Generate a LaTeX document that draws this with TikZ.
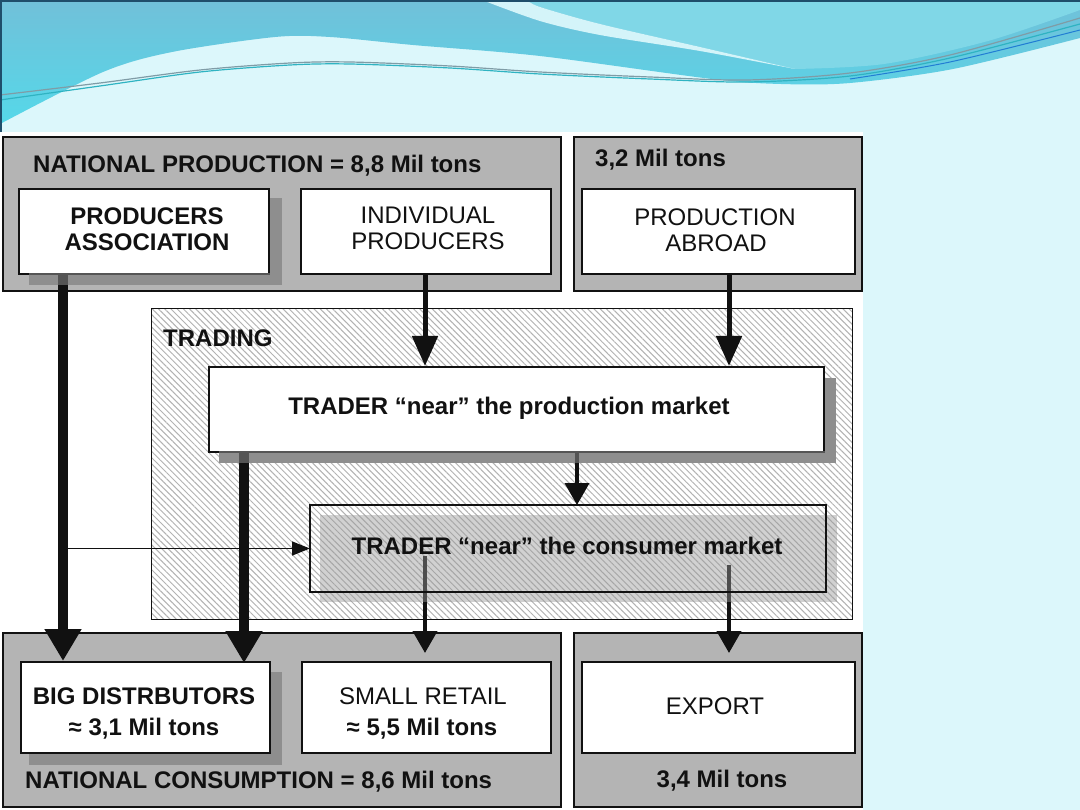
\documentclass[tikz,border=0pt]{standalone}
\usepackage{fontspec}
\setmainfont{Liberation Sans}
\usetikzlibrary{arrows.meta,patterns.meta,calc}
\definecolor{bgcyan}{HTML}{DCF7FB}
\definecolor{boxgray}{HTML}{B4B4B4}
\definecolor{shadowgray}{HTML}{8E8E8E}
\definecolor{navy}{HTML}{1F4E6B}
\definecolor{blueTop}{HTML}{71C0D9}
\definecolor{blueLow}{HTML}{55D8E9}
\definecolor{blueR}{HTML}{80D7E7}
\definecolor{wedgec}{HTML}{D4F4F9}
\definecolor{lineteal}{HTML}{2FB3C2}
\definecolor{linegray}{HTML}{7F9CA6}
\definecolor{hatchgray}{HTML}{B2B2B2}
\definecolor{ink}{HTML}{111111}
\tikzset{
  grp/.style={draw=ink, line width=2pt, fill=boxgray, inner sep=0pt, anchor=north west},
  wbox/.style={draw=ink, line width=2pt, fill=white, inner sep=0pt, anchor=north west},
  obox/.style={draw=ink, line width=2pt, inner sep=0pt, anchor=north west},
  shd/.style={fill=shadowgray},
  hatcharea/.style={draw=ink, line width=1.5pt, inner sep=0pt, anchor=north west,
     preaction={fill=white},
     pattern={Lines[angle=-45, distance=4.4pt, line width=1pt]}, pattern color=hatchgray},
  rtxt/.style={inner sep=0pt, text=ink, font=\fontsize{24}{28}\selectfont},
  btxt/.style={inner sep=0pt, text=ink, font=\fontsize{24}{28}\selectfont\bfseries},
  bigarrow/.style={draw=ink, line width=10pt, -{Triangle[width=35pt, length=32pt]}},
  midarrow/.style={draw=ink, line width=5pt, -{Triangle[width=25pt, length=30pt]}},
  smlarrow/.style={draw=ink, line width=4pt, -{Triangle[width=24pt, length=22pt]}},
  thinarrow/.style={draw=ink, line width=1.5pt, -{Triangle[width=14pt, length=18pt]}},
}
\begin{document}
\begin{tikzpicture}[x=1pt, y=-1pt]
\useasboundingbox (0,0) rectangle (1080,810);
% background
\fill[bgcyan] (0,0) rectangle (1080,810);
% banner
\path[top color=blueTop, bottom color=blueLow] (0,0) -- (1080,0) -- (1080,38) -- plot[smooth] coordinates {(1080,38) (953,69) (850,83) (781,84) (712,79) (540,56) (413,45) (330,37) (275,37) (172,52) (103,72) (0,124)} -- cycle;
\fill[blueR] (527,0) -- (1080,0) -- (1080,10) -- plot[smooth] coordinates {(1080,10) (988,41) (884,64) (795,69)} -- plot[smooth] coordinates {(795,69) (700,47) (600,24) (540,7) (527,0)} -- cycle;
\fill[wedgec] (482,0) -- (527,0) -- plot[smooth] coordinates {(527,0) (540,7) (600,24) (700,47) (795,69)} -- plot[smooth] coordinates {(795,69) (700,51) (600,35) (540,21) (482,0)} -- cycle;
\draw[linegray, line width=1.2pt] plot[smooth] coordinates {(0,95) (100,83) (200,70) (290,63) (350,62) (450,66) (540,72) (650,77) (747,80) (850,73) (950,55) (1080,18)};
\draw[lineteal, line width=1.2pt] plot[smooth] coordinates {(0,100) (100,86) (200,72) (290,65) (350,64) (450,68) (540,74) (650,79) (747,82) (850,76) (950,58) (1080,24)};
\draw[lineteal!70!blue, line width=1pt] plot[smooth] coordinates {(850,79) (950,62) (1080,30)};
\fill[navy] (0,0) rectangle (1080,2.5);
\fill[navy] (0,0) rectangle (1.5,132);
% diagram background
\fill[white] (0,132) rectangle (863,810);
% group areas
\node[grp, minimum width=558pt, minimum height=154pt] (gp) at (2,136) {};
\node[grp, minimum width=288pt, minimum height=154pt] (gr) at (573,136) {};
\node[grp, minimum width=558pt, minimum height=174pt] (gc) at (2,632) {};
\node[grp, minimum width=288pt, minimum height=174pt] (ge) at (573,632) {};
\node[hatcharea, minimum width=701pt, minimum height=311pt] (tr) at (151,308) {};
% shadows
\fill[shd] (29,198) rectangle (282,285);
\fill[shd] (29,672) rectangle (282,765);
\fill[shd] (219,378) rectangle (836,463);
% boxes (white)
\node[wbox, minimum width=250pt, minimum height=85pt] (pa) at (18,188) {};
\node[wbox, minimum width=250pt, minimum height=85pt] (ip) at (300,188) {};
\node[wbox, minimum width=273pt, minimum height=85pt] (pr) at (581,188) {};
\node[wbox, minimum width=615pt, minimum height=85pt] (tp) at (208,366) {};
\node[obox, draw=none, minimum width=514pt, minimum height=85pt] (tc) at (310,505) {};
\node[wbox, minimum width=249pt, minimum height=91pt] (bd) at (20,661) {};
\node[wbox, minimum width=249pt, minimum height=91pt] (sr) at (301,661) {};
\node[wbox, minimum width=273pt, minimum height=91pt] (ex) at (581,661) {};
% connector anchor coordinates
\coordinate (paout) at ($(pa.south west)+(45,0)$);
\coordinate (tpout) at ($(tp.south west)+(36,0)$);
\coordinate (ipout) at ($(ip.south west)+(125,0)$);
\coordinate (prout) at ($(pr.south west)+(148,0)$);
\coordinate (tpmid) at ($(tp.south west)+(369,0)$);
\coordinate (tcA) at ($(tc.north west)+(115,51)$);
\coordinate (tcB) at ($(tc.north west)+(419,60)$);
\coordinate (branch) at (paout |- tc.west);
% arrows
\draw[bigarrow] (paout) -- (paout |- bd.north);
\draw[bigarrow] (tpout) -- ($(tpout |- bd.north)+(0,2)$);
\draw[midarrow] (ipout) -- (ipout |- tp.north);
\draw[midarrow] (prout) -- (prout |- tp.north);
\draw[smlarrow] (tpmid) -- (tpmid |- tc.north);
\draw[thinarrow] (branch) -- (tc.west);
\draw[smlarrow, shorten >=8pt] (tcA) -- (tcA |- sr.north);
\draw[smlarrow, shorten >=8pt] (tcB) -- (tcB |- ex.north);
% semi-transparent shadows over the connectors
\fill[shadowgray, fill opacity=0.55] (29,273) rectangle (282,285);
\fill[shadowgray, fill opacity=0.55] (219,451) rectangle (836,463);
\fill[black!40, fill opacity=0.45] (320,515) rectangle (837,602);
\draw[ink, line width=2pt] (tc.north west) rectangle (tc.south east);
% texts
\node[btxt, anchor=base west] (tgp) at (33,173) {NATIONAL PRODUCTION = 8,8 Mil tons};
\node[btxt, anchor=base west] (tgr) at (595,167) {3,2 Mil tons};
\node[btxt, anchor=base] (tpa1) at (147,225) {PRODUCERS};
\node[btxt, anchor=base] (tpa2) at (147,251) {ASSOCIATION};
\node[rtxt, anchor=base] (tip1) at (428,224) {INDIVIDUAL};
\node[rtxt, anchor=base] (tip2) at (428,250) {PRODUCERS};
\node[rtxt, anchor=base] (tpr1) at (715,226) {PRODUCTION};
\node[rtxt, anchor=base] (tpr2) at (716,252) {ABROAD};
\node[btxt, anchor=base west] (ttr) at (163,347) {TRADING};
\node[btxt, anchor=base] (ttp) at (509,415) {TRADER “near” the production market};
\node[btxt, anchor=base] (ttc) at (567,554) {TRADER “near” the consumer market};
\node[btxt, anchor=base] (tbd1) at (144,704) {BIG DISTRBUTORS};
\node[btxt, anchor=base] (tbd2) at (144,735) {≈ 3,1 Mil tons};
\node[rtxt, anchor=base] (tsr1) at (423,704) {SMALL RETAIL};
\node[btxt, anchor=base] (tsr2) at (422,735) {≈ 5,5 Mil tons};
\node[rtxt, anchor=base] (tex) at (715,714) {EXPORT};
\node[btxt, anchor=base west] (tgc) at (25,788) {NATIONAL CONSUMPTION = 8,6 Mil tons};
\node[btxt, anchor=base] (tge) at (722,787) {3,4 Mil tons};
\end{tikzpicture}
\end{document}
